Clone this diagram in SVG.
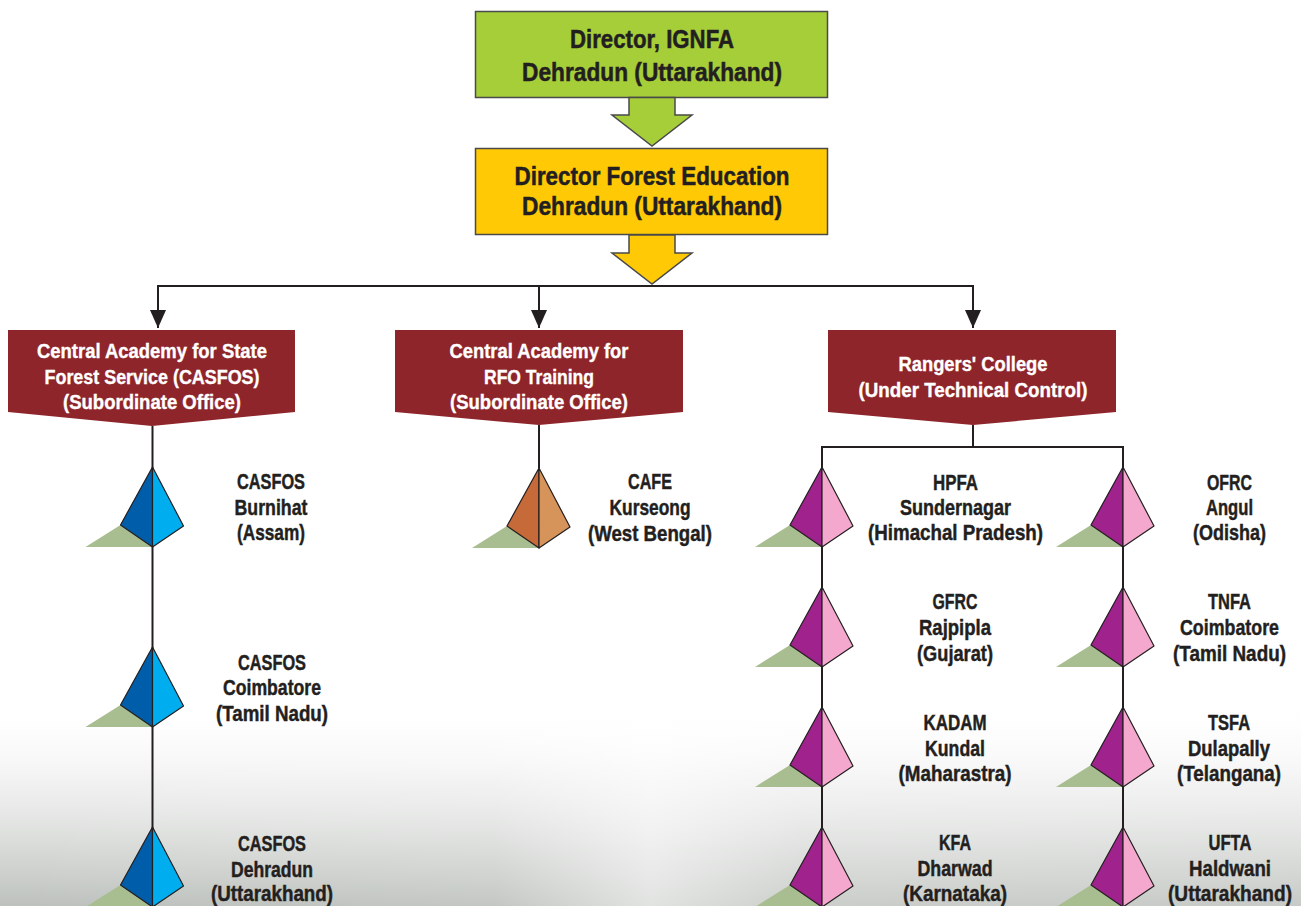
<svg xmlns="http://www.w3.org/2000/svg" xmlns:xlink="http://www.w3.org/1999/xlink" width="1301" height="906" viewBox="0 0 1301 906">
<defs>
<style>
.top{font-family:"Liberation Sans",Arial,sans-serif;font-weight:bold;font-size:25px;fill:#231F20;stroke:#231F20;stroke-width:0.5;text-anchor:middle}
.box{font-family:"Liberation Sans",Arial,sans-serif;font-weight:bold;font-size:19.5px;fill:#ffffff;stroke:#ffffff;stroke-width:0.35;text-anchor:middle}
.lbl{font-family:"Liberation Sans",Arial,sans-serif;font-weight:bold;font-size:22px;fill:#231F20;stroke:#231F20;stroke-width:0.45;text-anchor:middle}
.conn{fill:none;stroke:#231F20;stroke-width:2}
.maroon{fill:#8E252B}
</style>
<linearGradient id="mist" x1="0" y1="0" x2="0" y2="1">
<stop offset="0" stop-color="#ffffff" stop-opacity="0"/>
<stop offset="0.4" stop-color="#d4d7d4" stop-opacity="0.35"/>
<stop offset="0.75" stop-color="#b9bdb9" stop-opacity="0.6"/>
<stop offset="1" stop-color="#a7aca7" stop-opacity="0.75"/>
</linearGradient>
<linearGradient id="side" x1="0" y1="0" x2="1" y2="0">
<stop offset="0" stop-color="#ffffff" stop-opacity="0"/>
<stop offset="0.38" stop-color="#ffffff" stop-opacity="0.1"/>
<stop offset="0.5" stop-color="#ffffff" stop-opacity="0.55"/>
<stop offset="0.62" stop-color="#ffffff" stop-opacity="0.2"/>
<stop offset="1" stop-color="#ffffff" stop-opacity="0.15"/>
</linearGradient>
<marker id="arrow" viewBox="0 0 18 16" refX="18" refY="8" markerWidth="18" markerHeight="16" markerUnits="userSpaceOnUse" orient="auto">
<path d="M0,0 L18,8 L0,16 z" fill="#231F20"/>
</marker>
<g id="pyr">
<polygon points="-32,58 0,80 -67,80" fill="#A9BE90"/>
<polygon points="0,0 -32,58 0,80" stroke="#231F20" stroke-width="1.2" stroke-linejoin="round"/>
<polygon points="0,0 31,59 0,80" fill="currentColor" stroke="#231F20" stroke-width="1.2" stroke-linejoin="round"/>
</g>
</defs>
<rect x="0" y="0" width="1301" height="906" fill="#ffffff"/>
<g id="background">
<rect x="0" y="700" width="1301" height="206" fill="url(#mist)"/>
<rect x="0" y="700" width="1301" height="206" fill="url(#side)"/>
</g>

<g id="connectors">
<polyline class="conn" points="158,286 973,286"/>
<line class="conn" x1="158" y1="285" x2="158" y2="328" marker-end="url(#arrow)"/>
<line class="conn" x1="539" y1="286" x2="539" y2="328" marker-end="url(#arrow)"/>
<line class="conn" x1="973" y1="285" x2="973" y2="328" marker-end="url(#arrow)"/>
<line class="conn" x1="152.5" y1="426" x2="152.5" y2="906"/>
<line class="conn" x1="539" y1="425" x2="539" y2="468"/>
<polyline class="conn" points="973,425 973,447"/>
<polyline class="conn" points="822,906 822,447 1123,447 1123,906"/>
</g>

<g id="director-ignfa">
<rect x="475.5" y="11.5" width="352" height="86" fill="#A6CE39" stroke="#4a4a4a" stroke-width="1.5"/>
<polygon points="629,97.5 675,97.5 675,115 692,115 652,146 612,115 629,115" fill="#A6CE39" stroke="#4a4a4a" stroke-width="1.5"/>
<text class="top" x="652" y="48" textLength="164" lengthAdjust="spacingAndGlyphs">Director, IGNFA</text>
<text class="top" x="652" y="81" textLength="260" lengthAdjust="spacingAndGlyphs">Dehradun (Uttarakhand)</text>
</g>

<g id="director-forest-education">
<rect x="475.5" y="148.5" width="352" height="86" fill="#FFCA05" stroke="#4a4a4a" stroke-width="1.5"/>
<polygon points="629,235 675,235 675,253 692,253 652,284 612,253 629,253" fill="#FFCA05" stroke="#4a4a4a" stroke-width="1.5"/>
<text class="top" x="652" y="185" textLength="275" lengthAdjust="spacingAndGlyphs">Director Forest Education</text>
<text class="top" x="652" y="215" textLength="260" lengthAdjust="spacingAndGlyphs">Dehradun (Uttarakhand)</text>
</g>

<g id="casfos-box">
<polygon class="maroon" points="8,330 295,330 295,412 152,426 8,412"/>
<text class="box" x="152" y="358" textLength="230" lengthAdjust="spacingAndGlyphs">Central Academy for State</text>
<text class="box" x="152" y="384" textLength="215" lengthAdjust="spacingAndGlyphs">Forest Service (CASFOS)</text>
<text class="box" x="152" y="409" textLength="178" lengthAdjust="spacingAndGlyphs">(Subordinate Office)</text>
</g>

<g id="rfo-box">
<polygon class="maroon" points="395,330 683,330 683,412 539,425 395,412"/>
<text class="box" x="539" y="358" textLength="179" lengthAdjust="spacingAndGlyphs">Central Academy for</text>
<text class="box" x="539" y="384" textLength="110" lengthAdjust="spacingAndGlyphs">RFO Training</text>
<text class="box" x="539" y="409" textLength="178" lengthAdjust="spacingAndGlyphs">(Subordinate Office)</text>
</g>

<g id="rangers-box">
<polygon class="maroon" points="828,330 1116,330 1116,412 973,425 828,412"/>
<text class="box" x="973" y="371" textLength="149" lengthAdjust="spacingAndGlyphs">Rangers' College</text>
<text class="box" x="973" y="397" textLength="229" lengthAdjust="spacingAndGlyphs">(Under Technical Control)</text>
</g>

<g id="casfos-burnihat">
<use xlink:href="#pyr" href="#pyr" transform="translate(152.5,467)" fill="#005DAA" color="#00AEEF"/>
<text class="lbl" x="271" y="489" textLength="68" lengthAdjust="spacingAndGlyphs">CASFOS</text>
<text class="lbl" x="271" y="515" textLength="73" lengthAdjust="spacingAndGlyphs">Burnihat</text>
<text class="lbl" x="271" y="540" textLength="68" lengthAdjust="spacingAndGlyphs">(Assam)</text>
</g>

<g id="casfos-coimbatore">
<use xlink:href="#pyr" href="#pyr" transform="translate(152.5,647)" fill="#005DAA" color="#00AEEF"/>
<text class="lbl" x="272" y="670" textLength="68" lengthAdjust="spacingAndGlyphs">CASFOS</text>
<text class="lbl" x="272" y="695" textLength="98" lengthAdjust="spacingAndGlyphs">Coimbatore</text>
<text class="lbl" x="272" y="721" textLength="112" lengthAdjust="spacingAndGlyphs">(Tamil Nadu)</text>
</g>

<g id="casfos-dehradun">
<use xlink:href="#pyr" href="#pyr" transform="translate(152.5,827)" fill="#005DAA" color="#00AEEF"/>
<text class="lbl" x="272" y="851" textLength="68" lengthAdjust="spacingAndGlyphs">CASFOS</text>
<text class="lbl" x="272" y="877" textLength="82" lengthAdjust="spacingAndGlyphs">Dehradun</text>
<text class="lbl" x="272" y="901" textLength="122" lengthAdjust="spacingAndGlyphs">(Uttarakhand)</text>
</g>

<g id="cafe-kurseong">
<use xlink:href="#pyr" href="#pyr" transform="translate(539,468)" fill="#C76A39" color="#D6935A"/>
<text class="lbl" x="650" y="489" textLength="44" lengthAdjust="spacingAndGlyphs">CAFE</text>
<text class="lbl" x="650" y="515" textLength="81" lengthAdjust="spacingAndGlyphs">Kurseong</text>
<text class="lbl" x="650" y="541" textLength="124" lengthAdjust="spacingAndGlyphs">(West Bengal)</text>
</g>

<g id="hpfa-sundernagar">
<use xlink:href="#pyr" href="#pyr" transform="translate(822,467)" fill="#A0228D" color="#F4A8CD"/>
<text class="lbl" x="955.5" y="490" textLength="45" lengthAdjust="spacingAndGlyphs">HPFA</text>
<text class="lbl" x="955.5" y="515" textLength="111" lengthAdjust="spacingAndGlyphs">Sundernagar</text>
<text class="lbl" x="955.5" y="540" textLength="175" lengthAdjust="spacingAndGlyphs">(Himachal Pradesh)</text>
</g>

<g id="gfrc-rajpipla">
<use xlink:href="#pyr" href="#pyr" transform="translate(822,587)" fill="#A0228D" color="#F4A8CD"/>
<text class="lbl" x="955" y="609" textLength="45" lengthAdjust="spacingAndGlyphs">GFRC</text>
<text class="lbl" x="955" y="635" textLength="72" lengthAdjust="spacingAndGlyphs">Rajpipla</text>
<text class="lbl" x="955" y="661" textLength="76" lengthAdjust="spacingAndGlyphs">(Gujarat)</text>
</g>

<g id="kadam-kundal">
<use xlink:href="#pyr" href="#pyr" transform="translate(822,707)" fill="#A0228D" color="#F4A8CD"/>
<text class="lbl" x="955" y="730" textLength="63" lengthAdjust="spacingAndGlyphs">KADAM</text>
<text class="lbl" x="955" y="756" textLength="60" lengthAdjust="spacingAndGlyphs">Kundal</text>
<text class="lbl" x="955" y="781" textLength="113" lengthAdjust="spacingAndGlyphs">(Maharastra)</text>
</g>

<g id="kfa-dharwad">
<use xlink:href="#pyr" href="#pyr" transform="translate(822,827)" fill="#A0228D" color="#F4A8CD"/>
<text class="lbl" x="955" y="850" textLength="32" lengthAdjust="spacingAndGlyphs">KFA</text>
<text class="lbl" x="955" y="876" textLength="75" lengthAdjust="spacingAndGlyphs">Dharwad</text>
<text class="lbl" x="955" y="901" textLength="104" lengthAdjust="spacingAndGlyphs">(Karnataka)</text>
</g>

<g id="ofrc-angul">
<use xlink:href="#pyr" href="#pyr" transform="translate(1123,467)" fill="#A0228D" color="#F4A8CD"/>
<text class="lbl" x="1229.5" y="490" textLength="45" lengthAdjust="spacingAndGlyphs">OFRC</text>
<text class="lbl" x="1229.5" y="515" textLength="47" lengthAdjust="spacingAndGlyphs">Angul</text>
<text class="lbl" x="1229.5" y="540" textLength="73" lengthAdjust="spacingAndGlyphs">(Odisha)</text>
</g>

<g id="tnfa-coimbatore">
<use xlink:href="#pyr" href="#pyr" transform="translate(1123,587)" fill="#A0228D" color="#F4A8CD"/>
<text class="lbl" x="1229.5" y="609" textLength="43" lengthAdjust="spacingAndGlyphs">TNFA</text>
<text class="lbl" x="1229.5" y="635" textLength="99" lengthAdjust="spacingAndGlyphs">Coimbatore</text>
<text class="lbl" x="1229.5" y="661" textLength="113" lengthAdjust="spacingAndGlyphs">(Tamil Nadu)</text>
</g>

<g id="tsfa-dulapally">
<use xlink:href="#pyr" href="#pyr" transform="translate(1123,707)" fill="#A0228D" color="#F4A8CD"/>
<text class="lbl" x="1229" y="730" textLength="42" lengthAdjust="spacingAndGlyphs">TSFA</text>
<text class="lbl" x="1229" y="756" textLength="82" lengthAdjust="spacingAndGlyphs">Dulapally</text>
<text class="lbl" x="1229" y="781" textLength="104" lengthAdjust="spacingAndGlyphs">(Telangana)</text>
</g>

<g id="ufta-haldwani">
<use xlink:href="#pyr" href="#pyr" transform="translate(1123,827)" fill="#A0228D" color="#F4A8CD"/>
<text class="lbl" x="1230" y="850" textLength="43" lengthAdjust="spacingAndGlyphs">UFTA</text>
<text class="lbl" x="1230" y="876" textLength="82" lengthAdjust="spacingAndGlyphs">Haldwani</text>
<text class="lbl" x="1230" y="901" textLength="124" lengthAdjust="spacingAndGlyphs">(Uttarakhand)</text>
</g>
</svg>
